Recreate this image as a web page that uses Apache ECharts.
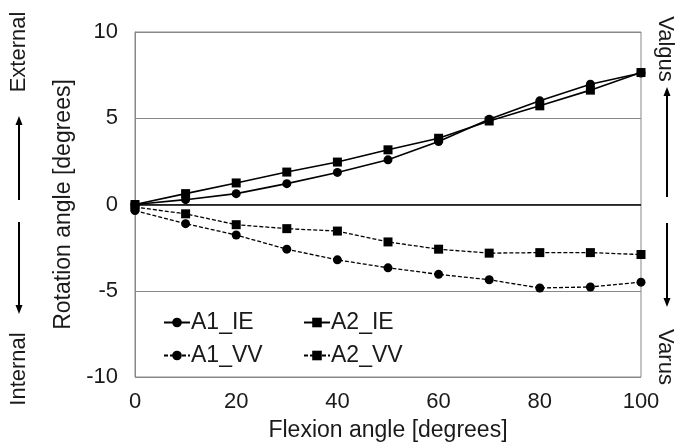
<!DOCTYPE html>
<html>
<head>
<meta charset="utf-8">
<script src="https://cdn.jsdelivr.net/npm/echarts@6/dist/echarts.min.js"></script>
<style>
html, body { margin: 0; padding: 0; background: #fff; }
#chart { width: 676px; height: 447px; }
</style>
</head>
<body>
<div id="chart"></div>
<script>
var flexion = [0, 10, 20, 30, 40, 50, 60, 70, 80, 90, 100];
var a1IE = [0.0, 0.28, 0.63, 1.21, 1.86, 2.59, 3.65, 4.94, 6.01, 6.97, 7.62];
var a2IE = [0.0, 0.63, 1.25, 1.88, 2.46, 3.17, 3.84, 4.84, 5.72, 6.63, 7.65];
var a1VV = [-0.35, -1.11, -1.77, -2.59, -3.21, -3.67, -4.05, -4.36, -4.84, -4.78, -4.50];
var a2VV = [-0.15, -0.54, -1.17, -1.40, -1.54, -2.17, -2.59, -2.82, -2.79, -2.79, -2.90];
var xTicks = [0, 20, 40, 60, 80, 100];
var yTicks = [-10, -5, 0, 5, 10];

var font = "'Liberation Sans', Arial, sans-serif";
var textColor = "#1a1a1a";

function pairs(values){
	var out = [];
	for(var i = 0; i < flexion.length; ++i){
		out.push([flexion[i], values[i]]);
	}
	return out;
}

function makeSeries(name, values, symbol, dashed){
	return {
		name : name,
		type : 'line',
		data : pairs(values),
		symbol : symbol,
		symbolSize : 9,
		showSymbol : true,
		itemStyle : { color : '#000' },
		lineStyle : {
			color : '#000',
			width : dashed ? 1.3 : 1.6,
			type : dashed ? [4, 2] : 'solid'
		},
		animation : false,
		z : 3
	};
}

var series = [
	makeSeries('A1_IE', a1IE, 'circle', false),
	makeSeries('A2_IE', a2IE, 'rect', false),
	makeSeries('A1_VV', a1VV, 'circle', true),
	makeSeries('A2_VV', a2VV, 'rect', true)
];
series[0].markLine = {
	silent : true,
	symbol : 'none',
	label : { show : false },
	lineStyle : { color : '#000', width : 1.5, type : 'solid' },
	data : [{ yAxis : 0 }],
	animation : false
};

// arrows next to the side labels
function arrow(x, y1, y2){
	var dir = y2 < y1 ? -1 : 1;
	return {
		type : 'group',
		silent : true,
		children : [
			{ type : 'line', shape : { x1 : x, y1 : y1, x2 : x, y2 : y2 - dir * 6 }, style : { stroke : '#000', lineWidth : 2 } },
			{ type : 'polygon', shape : { points : [[x - 3.5, y2 - dir * 9], [x + 3.5, y2 - dir * 9], [x, y2]] }, style : { fill : '#000' } }
		]
	};
}

function sideText(text, x, y, rot){
	return {
		type : 'text',
		x : x,
		y : y,
		rotation : rot,
		silent : true,
		style : {
			text : text,
			font : '22px ' + font,
			fill : textColor,
			align : 'center',
			verticalAlign : 'middle'
		}
	};
}

// one legend per entry so the two rows line up in columns
function legendAt(name, left, top){
	return {
		data : [name],
		left : left,
		top : top,
		itemWidth : 26,
		itemHeight : 12,
		textStyle : { fontSize : 23, fontFamily : font, color : textColor, padding : [0, 0, 0, -4] }
	};
}

var option = {
	backgroundColor : '#fff',
	animation : false,
	grid : {
		left : 135,
		right : 35,
		top : 32,
		bottom : 68,
		show : true,
		borderColor : '#888',
		borderWidth : 1
	},
	legend : [
		legendAt('A1_IE', 158, 306),
		legendAt('A2_IE', 298, 306),
		legendAt('A1_VV', 158, 339),
		legendAt('A2_VV', 298, 339)
	],
	xAxis : {
		type : 'value',
		min : xTicks[0],
		max : xTicks[xTicks.length - 1],
		interval : 20,
		name : 'Flexion angle [degrees]',
		nameLocation : 'middle',
		nameGap : 42,
		nameTextStyle : { fontSize : 23, fontFamily : font, color : textColor },
		axisLine : { show : true, lineStyle : { color : '#888' } },
		axisTick : { show : false },
		axisLabel : { fontSize : 22, fontFamily : font, color : textColor, margin : 14 },
		splitLine : { show : false }
	},
	yAxis : {
		type : 'value',
		min : yTicks[0],
		max : yTicks[yTicks.length - 1],
		interval : 5,
		name : 'Rotation angle [degrees]',
		nameLocation : 'middle',
		nameGap : 58,
		nameTextStyle : { fontSize : 23, fontFamily : font, color : textColor },
		axisLine : { show : true, lineStyle : { color : '#888' } },
		axisTick : { show : false },
		axisLabel : { fontSize : 22, fontFamily : font, color : textColor, margin : 17 },
		splitLine : { show : true, lineStyle : { color : '#888', width : 1 } }
	},
	graphic : [
		sideText('External', 19, 52, Math.PI / 2),
		sideText('Internal', 19, 369, Math.PI / 2),
		arrow(19, 200, 116),
		arrow(19, 222, 314),
		sideText('Valgus', 665, 49, -Math.PI / 2),
		sideText('Varus', 665, 357, -Math.PI / 2),
		arrow(667, 197, 87),
		arrow(667, 223, 307)
	],
	series : series
};

var chart = echarts.init(document.getElementById('chart'));
chart.setOption(option);
</script>
</body>
</html>
